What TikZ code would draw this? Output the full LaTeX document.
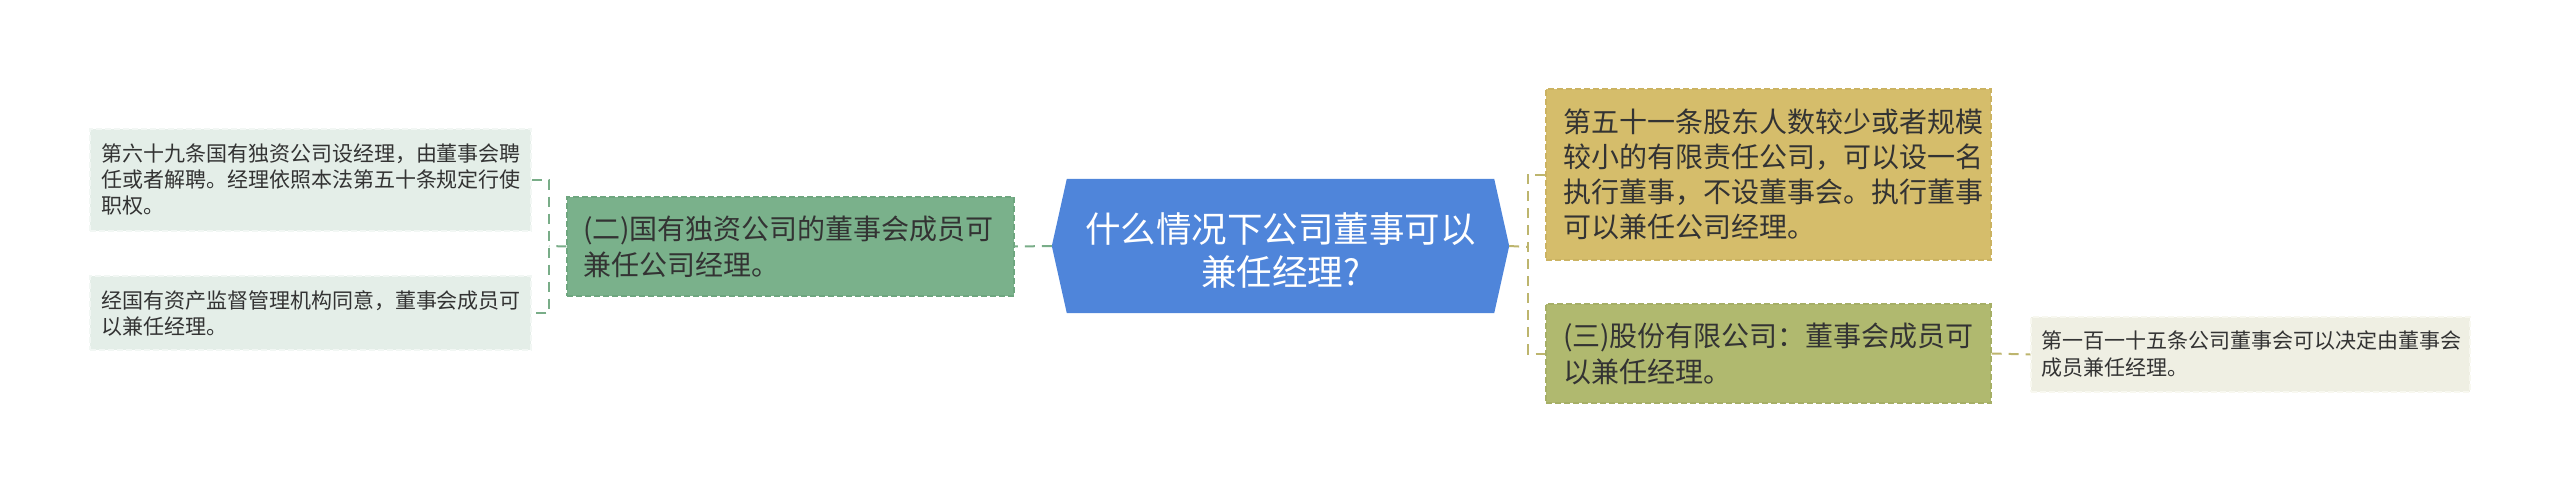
\documentclass[tikz,border=0pt]{standalone}
\usepackage{fontspec}
\setmainfont{Noto Sans CJK SC}
\definecolor{rootblue}{HTML}{4F85DA}
\definecolor{greenfill}{HTML}{7AB18B}
\definecolor{greenedge}{HTML}{6EA67F}
\definecolor{lgfill}{HTML}{E4EEE8}
\definecolor{lgedge}{HTML}{F2F7F4}
\definecolor{goldfill}{HTML}{D5BD6B}
\definecolor{goldedge}{HTML}{CBB362}
\definecolor{olivefill}{HTML}{B0B96F}
\definecolor{oliveedge}{HTML}{A6AF66}
\definecolor{lyfill}{HTML}{EFEFE3}
\definecolor{lyedge}{HTML}{F8F8F0}
\definecolor{lconn}{HTML}{79AD88}
\definecolor{rconn}{HTML}{BDB56E}
\definecolor{txt}{HTML}{333333}
\tikzset{
  box/.style={rectangle, draw, dash pattern=on 6pt off 3pt, line width=1.2pt, align=left, text=txt, inner sep=0pt, anchor=center},
  smalltext/.style={font=\fontsize{21}{26}\selectfont},
  midtext/.style={font=\fontsize{28}{36}\selectfont},
  lconnector/.style={draw=lconn, line width=2pt, dash pattern=on 10pt off 7pt},
  rconnector/.style={draw=rconn, line width=2pt, dash pattern=on 10pt off 7pt},
}
\begin{document}
\begin{tikzpicture}[x=1pt,y=-1pt]
\useasboundingbox (0,0) rectangle (2560,493);
% root
\node (root) [minimum width=457pt, minimum height=134pt, inner sep=0pt] at (1280.5,246) {};
\fill[rootblue] (root.west) -- ([xshift=15pt]root.north west) -- ([xshift=-15pt]root.north east) -- (root.east) -- ([xshift=-15pt]root.south east) -- ([xshift=15pt]root.south west) -- cycle;
\node (roottext) [text=white, align=center, font=\fontsize{35.5}{43}\selectfont] at (1280.5,251) {什么情况下公司董事可以\\兼任经理?};
% left side
\node (green) [box, fill=greenfill, draw=greenedge, midtext, minimum width=447pt, minimum height=99pt, text width=415pt] at (790.5,246.5) {(二)国有独资公司的董事会成员可\\兼任公司经理。};
\node (left1) [box, fill=lgfill, draw=lgedge, smalltext, minimum width=441pt, minimum height=102pt, text width=419pt] at (310.5,180) {第六十九条国有独资公司设经理，由董事会聘\\任或者解聘。经理依照本法第五十条规定行使\\职权。};
\node (left2) [box, fill=lgfill, draw=lgedge, smalltext, minimum width=441pt, minimum height=74pt, text width=419pt] at (310.5,313) {经国有资产监督管理机构同意，董事会成员可\\以兼任经理。};
% right side
\node (gold) [box, fill=goldfill, draw=goldedge, font=\fontsize{28}{35}\selectfont, minimum width=445pt, minimum height=171pt, text width=411pt] at (1768.5,174.5) {第五十一条股东人数较少或者规模\\较小的有限责任公司，可以设一名\\执行董事，不设董事会。执行董事\\可以兼任公司经理。};
\node (olive) [box, fill=olivefill, draw=oliveedge, midtext, minimum width=445pt, minimum height=99pt, text width=411pt] at (1768.5,353.5) {(三)股份有限公司：董事会成员可\\以兼任经理。};
\node (lightr) [box, fill=lyfill, draw=lyedge, font=\fontsize{21}{27}\selectfont, minimum width=439pt, minimum height=75pt, text width=419pt] at (2250.5,354.5) {第一百一十五条公司董事会可以决定由董事会\\成员兼任经理。};
% connectors
\coordinate (bl) at (549,246);
\coordinate (br) at (1528,247);
\draw[lconnector] (root.west) -- (green.east);
\draw[lconnector] (green.west) -- (bl);
\draw[lconnector] (left1.east) -- (left1.east -| bl) -- (left2.east -| bl) -- (left2.east);
\draw[rconnector] (root.east) -- (br);
\draw[rconnector] (gold.west) -- (gold.west -| br) -- (olive.west -| br) -- (olive.west);
\draw[rconnector] (olive.east) -- (lightr.west);
\end{tikzpicture}
\end{document}
